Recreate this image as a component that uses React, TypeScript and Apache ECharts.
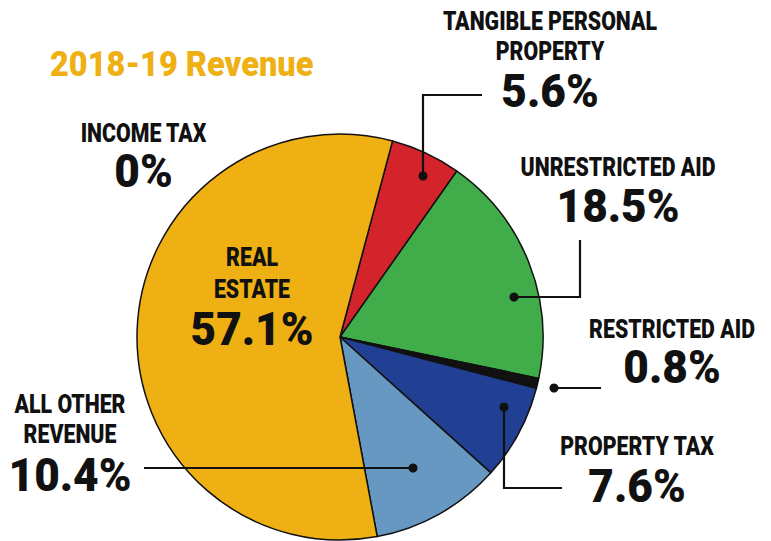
import React, { useEffect, useRef } from "react";
import * as echarts from "echarts";

const titleText = "2018-19 Revenue";
const categories = [
  "Tangible Personal Property",
  "Unrestricted Aid",
  "Restricted Aid",
  "Property Tax",
  "All Other Revenue",
  "Real Estate",
  "Income Tax",
];
const values = [5.6, 18.5, 0.8, 7.6, 10.4, 57.1, 0];
const colors = ["#D3232B", "#41AD4A", "#111111", "#213F93", "#6798C2", "#EEB013", "#EEB013"];
const labelLines = [
  ["TANGIBLE PERSONAL", "PROPERTY"],
  ["UNRESTRICTED AID"],
  ["RESTRICTED AID"],
  ["PROPERTY TAX"],
  ["ALL OTHER", "REVENUE"],
  ["REAL", "ESTATE"],
  ["INCOME TAX"],
];

// layout: label centre x, first-line y, line gap, value y
const labelLayout = [
  { x: 550, y: 21, gap: 30, vy: 91.5 },
  { x: 618, y: 167, gap: 30, vy: 206 },
  { x: 672, y: 329, gap: 30, vy: 367.5 },
  { x: 637, y: 446.5, gap: 30, vy: 486.5 },
  { x: 70, y: 404.5, gap: 30, vy: 475.5 },
  { x: 252, y: 257.5, gap: 32, vy: 329 },
  { x: 143.5, y: 133, gap: 30, vy: 171 },
];
// leader lines: dot position then polyline points
const leaders = [
  { dot: [423, 176], pts: [[423, 176], [423, 95], [482, 95]] },
  { dot: [514, 297], pts: [[514, 297], [580, 297], [580, 240]] },
  { dot: [554, 388], pts: [[554, 388], [601, 388]] },
  { dot: [504, 407], pts: [[504, 407], [504, 488], [562, 488]] },
  { dot: [413, 468], pts: [[413, 468], [144, 468]] },
];

const FONT = "Roboto, 'Liberation Sans', sans-serif";
const SX_NAME = 0.82;
const SX_VAL = 0.96;
const SX_TITLE = 0.93;

export default function App() {
  const ref = useRef<HTMLDivElement>(null);
  useEffect(() => {
    document.body.style.margin = "0";
    const chart = echarts.init(ref.current!, null, { renderer: "svg" });
    const graphics: any[] = [];
    graphics.push({
      type: "text",
      x: 50,
      y: 64.5,
      scaleX: SX_TITLE,
      style: {
        text: titleText,
        fill: "#EEB013",
        font: `900 35px ${FONT}`,
        textAlign: "left",
        textVerticalAlign: "middle",
      },
    });
    leaders.forEach((l) => {
      graphics.push({
        type: "polyline",
        shape: { points: l.pts },
        style: { stroke: "#111", lineWidth: 2.2, fill: null },
        z: 10,
      });
      graphics.push({
        type: "circle",
        shape: { cx: l.dot[0], cy: l.dot[1], r: 4.5 },
        style: { fill: "#111" },
        z: 11,
      });
    });
    categories.forEach((c, i) => {
      const L = labelLayout[i];
      labelLines[i].forEach((line, j) => {
        graphics.push({
          type: "text",
          x: L.x,
          y: L.y + j * L.gap,
          scaleX: SX_NAME,
          z: 12,
          style: {
            text: line,
            fill: "#111",
            font: `900 26px ${FONT}`,
            textAlign: "center",
            textVerticalAlign: "middle",
          },
        });
      });
      graphics.push({
        type: "text",
        x: L.x,
        y: L.vy,
        scaleX: SX_VAL,
        z: 12,
        style: {
          text: `${values[i]}%`,
          fill: "#111",
          font: `900 46px ${FONT}`,
          textAlign: "center",
          textVerticalAlign: "middle",
        },
      });
    });
    chart.setOption({
      animation: false,
      backgroundColor: "#fff",
      graphic: graphics,
      series: [
        {
          type: "pie",
          center: [340, 337],
          radius: 203,
          startAngle: 75,
          clockwise: true,
          silent: true,
          label: { show: false },
          labelLine: { show: false },
          emphasis: { disabled: true },
          data: categories.map((c, i) => ({
            name: c,
            value: values[i],
            itemStyle: {
              color: colors[i],
              borderColor: "#111",
              borderWidth: values[i] === 0 ? 0 : 1.5,
            },
          })),
        },
      ],
    });
    return () => chart.dispose();
  }, []);
  return <div ref={ref} style={{ width: 771, height: 541 }} />;
}
